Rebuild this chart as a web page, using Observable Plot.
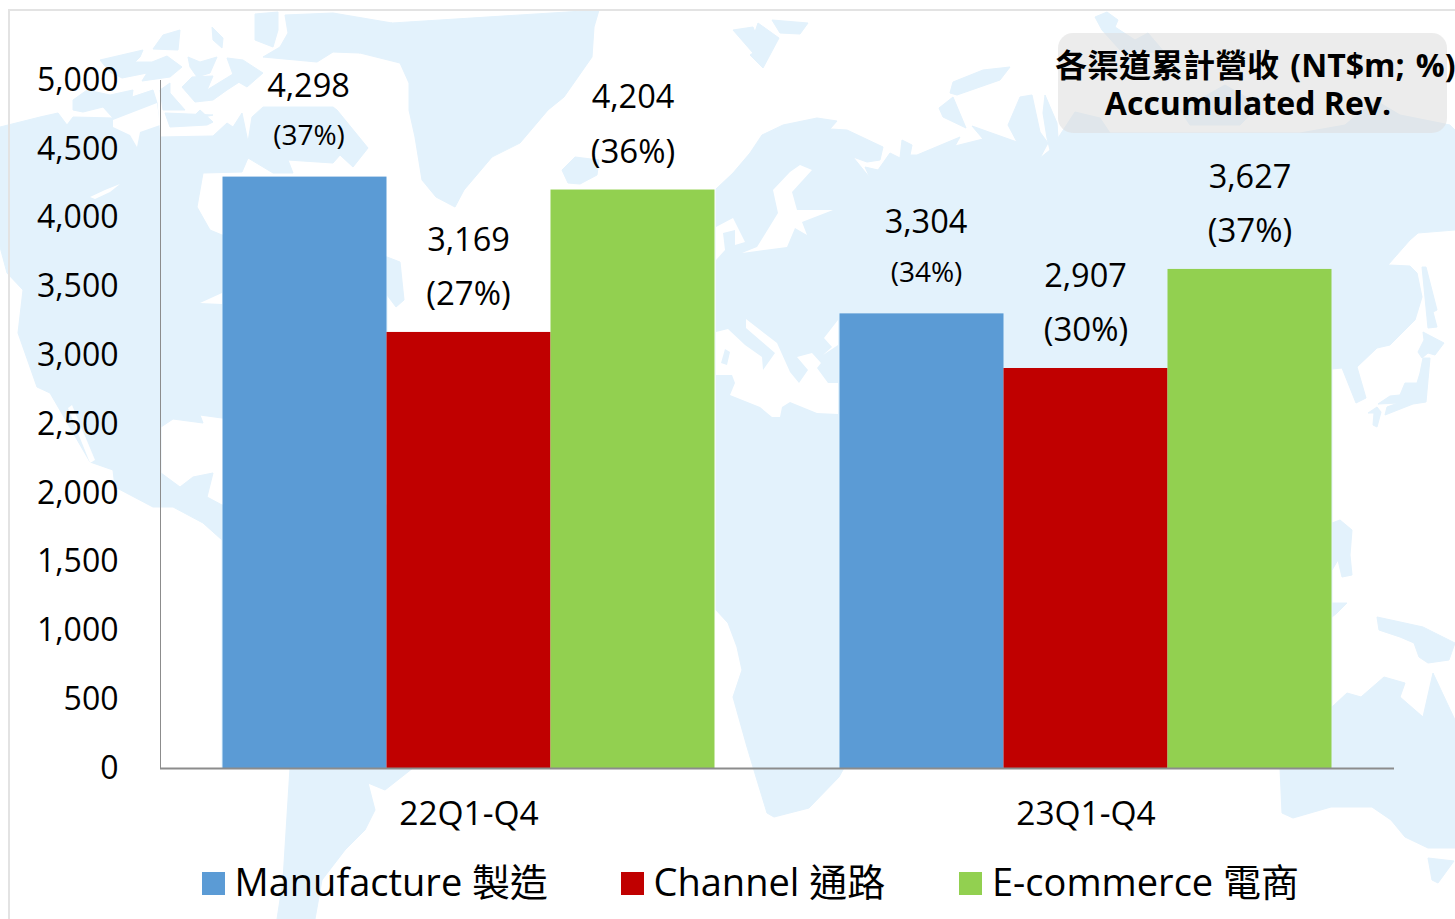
<!DOCTYPE html>
<html lang="zh-Hant">
<head>
<meta charset="utf-8">
<script src="https://cdn.jsdelivr.net/npm/d3@7"></script>
<script src="https://cdn.jsdelivr.net/npm/@observablehq/plot@0.6"></script>
<style>
  html, body { margin: 0; padding: 0; background: #fff; width: 1455px; height: 919px; overflow: hidden; }
  body { position: relative; font-family: "Open Sans", "Noto Sans CJK TC", sans-serif; color: #000; }
  #map { position: absolute; left: 0; top: 0; }
  #frame { position: absolute; left: 8px; top: 9px; right: 0; bottom: 0; border-top: 2px solid #e3e3e3; border-left: 2px solid #e3e3e3; }
  #chart { position: absolute; left: 0; top: 0; }
  #chart svg { background: transparent; display: block; }
  #titlebox { position: absolute; left: 1058px; top: 33px; width: 389px; height: 100px; border-radius: 15px; background: rgba(221,221,221,.57); }
  .title { position: absolute; height: 38px; line-height: 38px; text-align: center; font-weight: 700; font-size: 32px; white-space: nowrap; }
  #title1 { left: 1055px; top: 46px; width: 400px; word-spacing: 3px; }
  #title2 { left: 1048px; top: 84px; width: 400px; }
  .leg { position: absolute; top: 855px; height: 52px; line-height: 52px; font-size: 38px; white-space: nowrap; }
  .sw { position: absolute; top: 872px; width: 23px; height: 23px; }
</style>
</head>
<body>
<svg id="map" width="1455" height="919" viewBox="0 0 1455 919">
  <g fill="#e3f2fc" stroke="#e3f2fc" stroke-width="1" stroke-linejoin="round">
    <path d="M0,127L40,117L58,113L67,125L73,117L113,118L103,107L83,112L73,110L73,100L87,90L110,95L133,90L132,97L153,90L157,103L160,137L213,136L227,123L233,127L242,113L248,142L252,117L263,107L333,107L337,110L368,148L353,167L340,155L333,163L288,160L293,173L273,173L248,158L242,172L203,173L197,207L210,230L222,235L387,257L400,262L404,300L396,307L387,295L387,420L222,418L200,415L203,423L173,419L161,427L161,473L180,487L193,477L213,473L207,497L222,505L387,505L387,768L413,768L385,790L368,783L375,810L365,830L345,850L322,880L315,919L277,919L283,880L290,768L222,768L222,540L203,523L173,507L153,507L115,487L113,470L90,462L50,393L37,387L18,333L23,290L7,273L0,247Z"/>
    <path d="M392,23L599,10L594,27L592,57L585,67L564,97L548,110L520,143L492,157L464,190L455,207L436,197L422,180L415,137L409,110L409,83L400,63L360,53L343,43L367,33Z"/>
    <path d="M285,15L333,13L392,23L367,33L343,43L360,53L333,52L317,62L263,57L280,47L288,33Z"/>
    <path d="M562,170L575,157L599,160L597,175L580,184L568,183Z"/>
    <path d="M255,14L278,12L278,30L273,47L255,40Z"/>
    <path d="M212,27L223,38L222,48L213,40Z"/>
    <path d="M163,35L180,30L178,50L153,49Z"/>
    <path d="M100,60L143,50L140,57L135,62L152,62L167,56L182,67L170,77L142,81L147,73L122,78L110,72Z"/>
    <path d="M188,57L200,62L217,57L210,73L197,77L190,67Z"/>
    <path d="M227,58L243,60L263,73L247,87L235,80Z"/>
    <path d="M170,83L160,90L163,110L185,110L170,93Z"/>
    <path d="M192,77L213,76L207,90L233,74L247,77L227,90L213,100L195,102L182,87Z"/>
    <path d="M165,113L213,115L190,120L200,110L213,122L207,125L170,127Z"/>
    <path d="M716,189L733,173L750,153L762,135L783,125L817,118L837,121L830,129L847,130L883,147L880,160L867,162L853,157L870,178L865,167L878,170L890,153L900,158L902,140L912,145L910,155L917,155L960,137L955,146L983,139L972,126L1017,142L1008,125L1020,97L1032,95L1040,132L1048,143L1040,158L1050,150L1047,138L1058,138L1075,112L1100,118L1110,133L1300,133L1345,125L1375,100L1400,115L1450,125L1455,130L1455,230L1418,233L1410,240L1388,265L1410,266L1417,273L1422,297L1415,320L1390,345L1377,348L1357,367L1366,398L1356,403L1342,368L1332,369L1332,768L844,768L839,777L809,808L774,817L767,813L756,777L747,747L733,697L742,670L737,647L728,623L716,610Z"/>
    <path d="M733,30L753,27L755,32L758,23L779,38L763,68L750,55L753,53Z"/>
    <path d="M772,20L808,23L800,34L780,33Z"/>
    <path d="M950,93L953,82L983,70L1010,67L1000,80L957,95Z"/>
    <path d="M939,108L953,97L966,128L943,117Z"/>
    <path d="M1043,113L1045,95L1057,123L1058,138L1047,138Z"/>
    <path d="M1095,17L1107,12L1118,20L1115,27L1135,40L1148,33L1165,53L1120,50L1102,30Z"/>
    <path d="M1180,110L1225,85L1260,105L1240,125L1190,125Z"/>
    <path d="M1422,267L1426,267L1437,310L1433,312L1437,327L1428,328Z"/>
    <path d="M1423,332L1444,343L1435,355L1428,353L1422,358L1418,352L1424,340Z"/>
    <path d="M1423,358L1430,358L1426,402L1413,404L1385,415L1387,407L1398,403L1378,404L1390,396L1400,395L1405,383L1417,383L1420,373Z"/>
    <path d="M1368,413L1377,407L1381,412L1377,427L1373,425L1374,413Z"/>
    <path d="M1332,523L1340,520L1352,530L1350,555L1352,575L1342,577L1338,560L1332,570Z"/>
    <path d="M1332,603L1347,603L1337,613L1332,617Z"/>
    <path d="M1377,617L1391,620L1423,627L1455,643L1449,660L1428,663L1419,657L1414,643L1400,637L1379,630Z"/>
    <path d="M1280,768L1332,707L1347,693L1361,697L1384,677L1405,683L1400,697L1423,717L1433,673L1455,720L1455,848L1428,848L1405,837L1391,820L1372,807L1331,807L1293,818L1282,813Z"/>
    <path d="M1428,858L1454,861L1438,883L1432,880Z"/>
  </g>
  <g fill="#fff">
    <path d="M113,120L157,103L160,125L140,132L137,147L130,135L113,127Z"/>
    <path d="M90,197L105,190L120,184L110,192L95,199Z"/>
    <path d="M68,408L72,405L95,460L90,463Z"/>
    <path d="M200,303L222,293L222,304Z"/>
    <path d="M800,165L812,170L792,192L797,210L833,210L802,222L807,235L795,228L787,247L742,253L757,247L778,213L773,190L790,172Z"/>
    <path d="M716,227L733,218L745,242L735,245L735,230L723,233L725,250L716,260Z"/>
    <path d="M716,332L728,329L745,345L762,357L763,370L775,353L746,328L746,319L777,343L790,372L799,383L808,370L797,357L812,353L821,363L817,368L828,383L838,383L838,414L817,413L790,402L782,407L780,417L772,417L760,407L730,395L735,383L732,375L716,375Z"/>
    <path d="M838,320L824,338L832,347L823,355L838,345Z"/>
  </g>
  <path d="M725,349L730,352L727,365L721,363Z" fill="#e3f2fc"/>
</svg>
<div id="frame"></div>
<div id="chart"></div>
<div id="titlebox"></div>
<div class="title" id="title1">各渠道累計營收 (NT$m; %)</div>
<div class="title" id="title2">Accumulated Rev.</div>
<div id="legend"></div>
<script>
const periods = ["22Q1-Q4", "23Q1-Q4"];
const channels = ["Manufacture 製造", "Channel 通路", "E-commerce 電商"];
const revenue22 = [4298, 3169, 4204];
const revenue23 = [3304, 2907, 3627];
const share22 = [37, 27, 36];
const share23 = [34, 30, 37];
const colors = ["#5b9bd5", "#c00000", "#92d050"];
const yTicks = [0, 500, 1000, 1500, 2000, 2500, 3000, 3500, 4000, 4500, 5000];

const rows = [
  ...channels.map((c, i) => ({period: periods[0], channel: c, value: revenue22[i], share: share22[i]})),
  ...channels.map((c, i) => ({period: periods[1], channel: c, value: revenue23[i], share: share23[i]}))
];

// Label placement, kept apart from the data
const valueDx = [3.5, -0.5, 0, 4, -0.5, 0];
const valueDy = [-91, -92, -92.5, -91, -92, -92];
const shareDx = [4, -0.5, 0, 4.5, 0, 0];
const shareDy = [-41.5, -38, -38, -41, -38, -38];
const shareSize = [28, 33, 33, 28, 33, 33];
const FONT = '"Open Sans", "Noto Sans CJK TC", sans-serif';
const format = d3.format(",");

const labelMarks = rows.flatMap((d, i) => [
  Plot.text([d], {fx: "period", x: "channel", y: "value", text: r => format(r.value),
    dx: valueDx[i], dy: valueDy[i], fontSize: 32.5, fill: "#000", lineAnchor: "middle"}),
  Plot.text([d], {fx: "period", x: "channel", y: "value", text: r => `(${r.share}%)`,
    dx: shareDx[i], dy: shareDy[i], fontSize: shareSize[i], fill: "#000", lineAnchor: "middle"})
]);

const chart = Plot.plot({
  width: 1455,
  height: 850,
  marginLeft: 159.5,
  marginRight: 61.5,
  marginTop: 80,
  marginBottom: 82,
  style: {background: "transparent", fontFamily: FONT, color: "#000", overflow: "visible"},
  fx: {domain: periods, padding: 0, label: null},
  x: {domain: channels, paddingInner: 0, paddingOuter: 0.375, axis: null},
  y: {domain: [0, 5000], label: null},
  color: {domain: channels, range: colors},
  marks: [
    Plot.barY(rows, {fx: "period", x: "channel", y: "value", fill: "channel"}),
    Plot.ruleY([0], {stroke: "#8c8c8c", strokeWidth: 2}),
    Plot.frame({anchor: "left", stroke: "#8c8c8c", strokeWidth: 1, fx: () => periods[0]}),
    Plot.axisY({ticks: yTicks, tickSize: 0, tickPadding: 42, fontSize: 32, label: null, tickFormat: d => format(d), anchor: "left", fill: "#000"}),
    Plot.axisFx({tickSize: 0, tickPadding: 33, fontSize: 33.5, label: null, anchor: "bottom", fill: "#000"}),
    ...labelMarks
  ]
});
document.getElementById("chart").append(chart);

// Legend
const swatchLeft = [202, 621, 959];
const textLeft = [234.5, 653.5, 992];
const legend = document.getElementById("legend");
channels.forEach((c, i) => {
  const s = document.createElement("div");
  s.className = "sw"; s.style.left = swatchLeft[i] + "px"; s.style.background = colors[i];
  const t = document.createElement("div");
  t.className = "leg"; t.style.left = textLeft[i] + "px"; t.textContent = c;
  legend.append(s, t);
});
</script>
</body>
</html>
